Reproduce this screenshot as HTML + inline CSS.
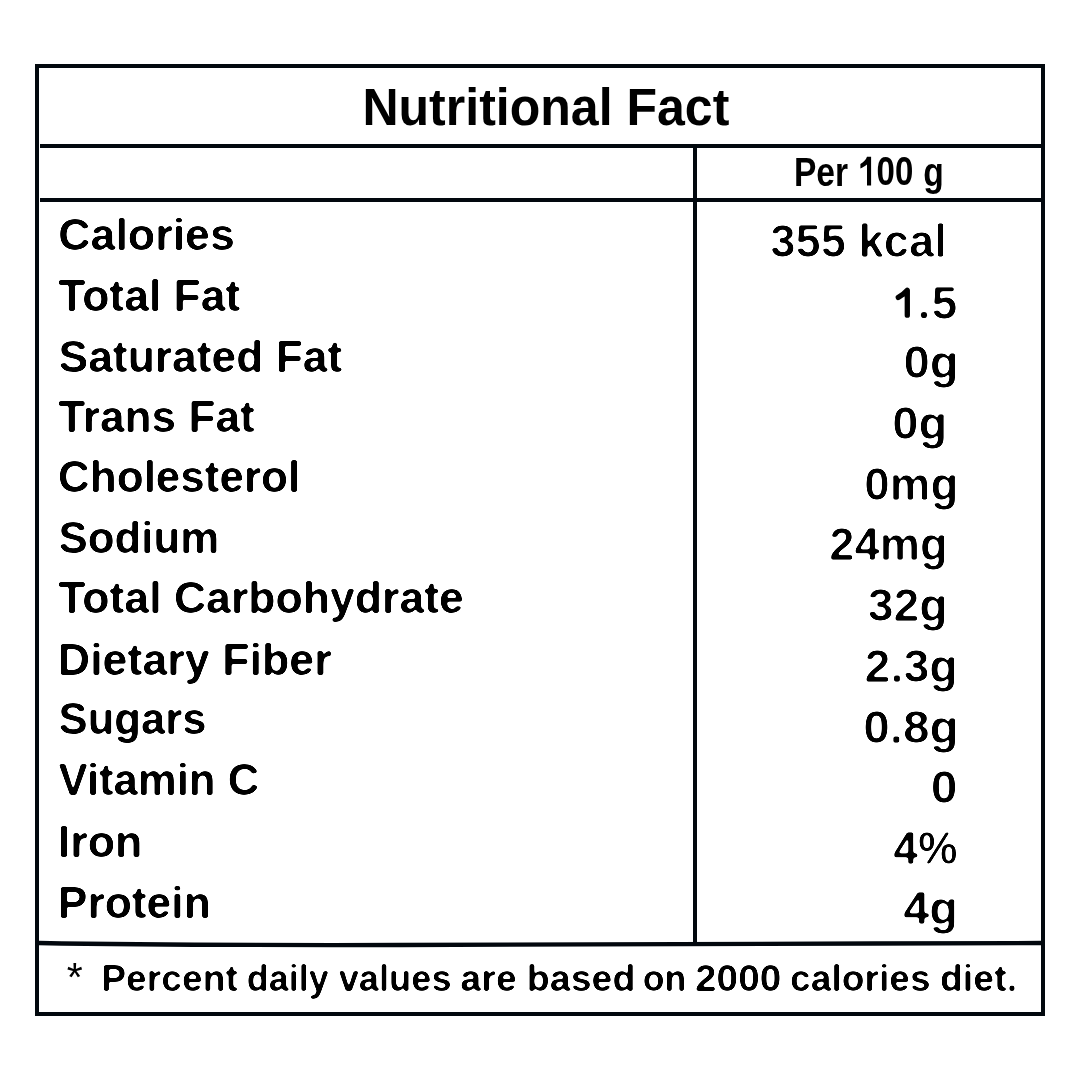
<!DOCTYPE html>
<html><head><meta charset="utf-8"><title>Nutritional Fact</title><style>
html,body{margin:0;padding:0;background:#fff;}
body{width:1080px;height:1080px;overflow:hidden;}
svg{display:block;will-change:transform;}
text{font-family:"Liberation Sans", sans-serif;fill:#000;}
</style></head><body>
<svg width="1080" height="1080" viewBox="0 0 1080 1080">
<rect width="1080" height="1080" fill="#fff"/>

<rect x="37" y="66" width="1006" height="948" fill="none" stroke="#02080e" stroke-width="4"/>
<rect x="40" y="144" width="1002" height="4" fill="#02080e"/>
<rect x="40" y="198" width="1002" height="4" fill="#02080e"/>
<rect x="693" y="147" width="4" height="796" fill="#02080e"/>
<path d="M39,943 C150,945 300,945.2 400,945 S800,943.6 1042,943" fill="none" stroke="#02080e" stroke-width="4.3"/>

<text transform="translate(362.42,124.80) scale(0.9795,1)" font-size="51.1" font-weight="bold">Nutritional Fact</text>
<text transform="translate(793.94,185.80) scale(0.8299,1)" font-size="40.4" font-weight="bold">Per</text>
<text transform="translate(876.58,185.20) scale(0.8110,1)" font-size="40.7" font-weight="bold">00</text>
<text transform="translate(923.35,185.80) scale(0.8333,1)" font-size="40.4" font-weight="bold">g</text>
<defs><filter id="fL" x="0" y="0" width="1080" height="1080" filterUnits="userSpaceOnUse" color-interpolation-filters="sRGB"><feGaussianBlur in="SourceAlpha" stdDeviation="1.3"/><feComponentTransfer><feFuncA type="linear" slope="5" intercept="-2.2296"/></feComponentTransfer></filter><filter id="fV" x="0" y="0" width="1080" height="1080" filterUnits="userSpaceOnUse" color-interpolation-filters="sRGB"><feGaussianBlur in="SourceAlpha" stdDeviation="1.3"/><feComponentTransfer><feFuncA type="linear" slope="5" intercept="-2.7487"/></feComponentTransfer></filter><filter id="fF" x="0" y="0" width="1080" height="1080" filterUnits="userSpaceOnUse" color-interpolation-filters="sRGB"><feGaussianBlur in="SourceAlpha" stdDeviation="1.3"/><feComponentTransfer><feFuncA type="linear" slope="5" intercept="-2.3057"/></feComponentTransfer></filter></defs>
<g filter="url(#fL)"><text transform="translate(58.15,249.95) scale(1.0185,1)" font-size="44.0" font-weight="bold">Calories</text>
<text transform="translate(58.30,311.15) scale(1.0113,1)" font-size="44.0" font-weight="bold">Total Fat</text>
<text transform="translate(58.52,371.55) scale(1.0097,1)" font-size="44.0" font-weight="bold">Saturated Fat</text>
<text transform="translate(58.31,431.85) scale(1.0042,1)" font-size="44.0" font-weight="bold">Trans Fat</text>
<text transform="translate(58.09,492.35) scale(1.0006,1)" font-size="44.0" font-weight="bold">Cholesterol</text>
<text transform="translate(58.53,552.95) scale(0.9968,1)" font-size="44.0" font-weight="bold">Sodium</text>
<text transform="translate(58.30,613.15) scale(1.0138,1)" font-size="44.0" font-weight="bold">Total Carbohydrate</text>
<text transform="translate(57.82,674.55) scale(1.0184,1)" font-size="44.0" font-weight="bold">Dietary Fiber</text>
<text transform="translate(58.54,734.15) scale(0.9926,1)" font-size="44.0" font-weight="bold">Sugars</text>
<text transform="translate(58.52,795.45) scale(0.9933,1)" font-size="44.0" font-weight="bold">Vitamin C</text>
<text transform="translate(57.83,856.55) scale(1.0163,1)" font-size="44.0" font-weight="bold">Iron</text>
<text transform="translate(57.85,917.65) scale(1.0091,1)" font-size="44.0" font-weight="bold">Protein</text></g>
<g filter="url(#fV)"><text transform="translate(770.28,257.40) scale(0.9992,1)" font-size="45.43" font-weight="bold">355 kcal</text>
<text transform="translate(931.39,318.50) scale(1.0231,1)" font-size="45.43" font-weight="bold">5</text>
<text transform="translate(903.38,378.00) scale(1.0433,1)" font-size="45.43" font-weight="bold">0g</text>
<text transform="translate(892.29,439.20) scale(1.0391,1)" font-size="45.43" font-weight="bold">0g</text>
<text transform="translate(864.36,500.20) scale(1.0081,1)" font-size="45.43" font-weight="bold">0mg</text>
<text transform="translate(829.21,560.20) scale(0.9979,1)" font-size="45.43" font-weight="bold">24mg</text>
<text transform="translate(867.64,620.80) scale(1.0235,1)" font-size="45.43" font-weight="bold">32g</text>
<text transform="translate(864.56,682.20) scale(1.0256,1)" font-size="45.43" font-weight="bold">2.3g</text>
<text transform="translate(863.16,742.70) scale(1.0518,1)" font-size="45.43" font-weight="bold">0.8g</text>
<text transform="translate(930.85,802.70) scale(1.0593,1)" font-size="45.43" font-weight="bold">0</text>
<text transform="translate(893.24,863.80) scale(0.9822,1)" font-size="45.43" font-weight="bold">4%</text>
<text transform="translate(903.18,924.00) scale(1.0354,1)" font-size="45.43" font-weight="bold">4g</text></g>
<g filter="url(#fF)"><text transform="translate(101.19,991.10) scale(0.9885,1)" font-size="37.7" font-weight="bold">Percent</text>
<text transform="translate(246.67,991.10) scale(0.9550,1)" font-size="37.7" font-weight="bold">daily</text>
<text transform="translate(338.63,991.10) scale(0.9632,1)" font-size="37.7" font-weight="bold">values</text>
<text transform="translate(460.37,991.10) scale(0.9983,1)" font-size="37.7" font-weight="bold">are</text>
<text transform="translate(526.76,991.10) scale(0.9976,1)" font-size="37.7" font-weight="bold">based</text>
<text transform="translate(642.68,991.10) scale(0.9468,1)" font-size="37.7" font-weight="bold">on</text>
<text transform="translate(695.04,991.10) scale(1.0278,1)" font-size="37.7" font-weight="bold">2000</text>
<text transform="translate(790.01,991.10) scale(0.9871,1)" font-size="37.7" font-weight="bold">calories</text>
<text transform="translate(939.89,991.10) scale(0.9983,1)" font-size="37.7" font-weight="bold">diet.</text></g>
<text transform="translate(66.68,990.69) scale(1.0137,1)" font-size="40.57" font-weight="normal">*</text>
<path d="M867,156.8 L871.1,156.8 L871.1,185.6 L867,185.6 L867,164.6 C864.8,166.4 862.6,167.6 860.4,168.6 L860.4,163.9 C863.6,162.4 865.9,159.8 867,156.8 Z" fill="#000"/>
<path d="M898.3,297.4 Q903.9,294.4 907.3,290.3 L907.3,315.2" fill="none" stroke="#000" stroke-width="5.3" stroke-linecap="round" stroke-linejoin="round"/>
<circle cx="924" cy="315" r="3.1" fill="#000"/>
</svg>
</body></html>
